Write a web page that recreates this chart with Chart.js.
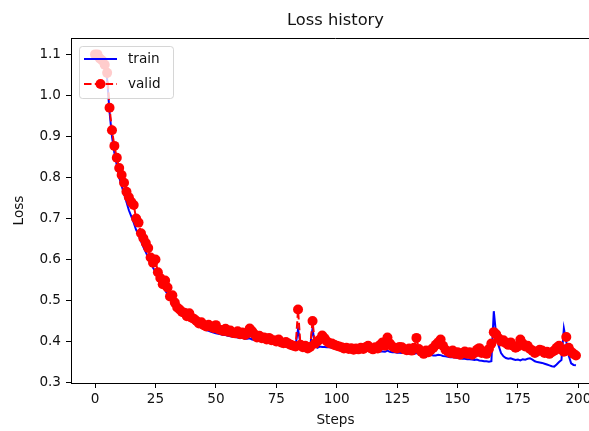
<!DOCTYPE html>
<html>
<head>
<meta charset="utf-8">
<script src="https://cdn.jsdelivr.net/npm/chart.js@4"></script>
<style>
  html, body { margin: 0; padding: 0; background: #fff; overflow: hidden; }
  #wrap { width: 605px; height: 431px; }
</style>
</head>
<body>
<div id="wrap"><canvas id="lossChart" width="605" height="431"></canvas></div>
<script>
'use strict';

// loss values per step
var trainLoss = [
  1.100, 1.100, 1.095, 1.090, 1.075, 1.040, 0.960, 0.900, 0.860, 0.830,
  0.800, 0.780, 0.760, 0.740, 0.720, 0.705, 0.690, 0.672, 0.660, 0.645,
  0.630, 0.618, 0.605, 0.593, 0.580, 0.570, 0.560, 0.550, 0.535, 0.525,
  0.515, 0.505, 0.497, 0.490, 0.483, 0.476, 0.470, 0.464, 0.458, 0.453,
  0.449, 0.445, 0.441, 0.437, 0.434, 0.431, 0.428, 0.426, 0.424, 0.422,
  0.420, 0.419, 0.418, 0.416, 0.416, 0.414, 0.413, 0.412, 0.411, 0.410,
  0.409, 0.409, 0.407, 0.407, 0.408, 0.405, 0.404, 0.403, 0.403, 0.401,
  0.401, 0.400, 0.399, 0.399, 0.398, 0.397, 0.397, 0.396, 0.395, 0.395,
  0.394, 0.393, 0.393, 0.392, 0.430, 0.395, 0.391, 0.390, 0.390, 0.389,
  0.432, 0.393, 0.385, 0.388, 0.387, 0.387, 0.386, 0.386, 0.385, 0.385,
  0.384, 0.384, 0.383, 0.383, 0.382, 0.382, 0.381, 0.381, 0.380, 0.380,
  0.380, 0.379, 0.379, 0.378, 0.378, 0.377, 0.377, 0.377, 0.376, 0.376,
  0.375, 0.378, 0.375, 0.374, 0.374, 0.373, 0.373, 0.372, 0.372, 0.371,
  0.371, 0.371, 0.370, 0.372, 0.370, 0.369, 0.368, 0.368, 0.367, 0.367,
  0.366, 0.366, 0.368, 0.367, 0.365, 0.364, 0.363, 0.362, 0.362, 0.361,
  0.360, 0.359, 0.358, 0.358, 0.357, 0.357, 0.356, 0.355, 0.356, 0.354,
  0.353, 0.352, 0.352, 0.351, 0.352, 0.474, 0.415, 0.390, 0.372, 0.364,
  0.360, 0.358, 0.359, 0.357, 0.355, 0.356, 0.354, 0.357, 0.356, 0.358,
  0.359, 0.356, 0.352, 0.350, 0.349, 0.348, 0.346, 0.344, 0.342, 0.340,
  0.339, 0.344, 0.350, 0.355, 0.432, 0.400, 0.366, 0.347, 0.343, 0.342
];

var validLoss = [
  1.100, 1.100, 1.090, 1.085, 1.075, 1.055, 0.970, 0.915, 0.877, 0.848,
  0.823, 0.806, 0.787, 0.765, 0.752, 0.740, 0.733, 0.700, 0.690, 0.664,
  0.652, 0.640, 0.628, 0.605, 0.592, 0.600, 0.569, 0.555, 0.540, 0.549,
  0.532, 0.510, 0.513, 0.495, 0.483, 0.478, 0.472, 0.470, 0.462, 0.469,
  0.458, 0.455, 0.450, 0.444, 0.447, 0.440, 0.437, 0.441, 0.436, 0.433,
  0.440, 0.430, 0.428, 0.426, 0.431, 0.424, 0.427, 0.421, 0.420, 0.425,
  0.418, 0.422, 0.416, 0.420, 0.432, 0.425, 0.418, 0.410, 0.414, 0.408,
  0.410, 0.405, 0.409, 0.403, 0.403, 0.400, 0.405, 0.398, 0.396, 0.399,
  0.395, 0.392, 0.390, 0.388, 0.478, 0.392, 0.386, 0.390, 0.383, 0.387,
  0.450, 0.395, 0.400, 0.405, 0.415, 0.408, 0.400, 0.396, 0.395, 0.392,
  0.390, 0.388, 0.386, 0.383, 0.385, 0.382, 0.384, 0.380, 0.383, 0.381,
  0.385, 0.382, 0.386, 0.390, 0.384, 0.381, 0.386, 0.383, 0.392, 0.398,
  0.390, 0.410, 0.395, 0.388, 0.385, 0.383, 0.387, 0.386, 0.381, 0.379,
  0.383, 0.378, 0.385, 0.409, 0.382, 0.375, 0.370, 0.378, 0.374, 0.380,
  0.385, 0.392, 0.398, 0.405, 0.390, 0.380, 0.376, 0.372, 0.378, 0.370,
  0.374, 0.368, 0.372, 0.376, 0.370, 0.374, 0.368, 0.372, 0.380, 0.384,
  0.372, 0.376, 0.370, 0.382, 0.395, 0.423, 0.418, 0.408, 0.400, 0.403,
  0.396, 0.392, 0.398, 0.390, 0.385, 0.388, 0.405, 0.395, 0.388, 0.390,
  0.382, 0.378, 0.372, 0.376, 0.380, 0.378, 0.372, 0.375, 0.370, 0.374,
  0.378, 0.385, 0.390, 0.380, 0.375, 0.411, 0.385, 0.375, 0.370, 0.366
];

var xTicks = [0, 25, 50, 75, 100, 125, 150, 175, 200];
var yTicks = [0.3, 0.4, 0.5, 0.6, 0.7, 0.8, 0.9, 1.0, 1.1];

var FONT = "'DejaVu Sans', sans-serif";
var TEXT = '#111';

function toPoints(arr) {
    var pts = [];
    arr.forEach(function(v, i) { pts.push({ x: i, y: v }); });
    return pts;
}

// title centred on the axes, top spine, legend box over the data
var framePlugin = {
    id: 'frame',
    afterDatasetsDraw: function(chart) {
        var ctx = chart.ctx;
        var a = chart.chartArea;
        ctx.save();
        ctx.strokeStyle = '#000';
        ctx.lineWidth = 1;
        ctx.beginPath();
        ctx.moveTo(a.left, a.top + 0.5);
        ctx.lineTo(a.right, a.top + 0.5);
        ctx.stroke();

        ctx.fillStyle = TEXT;
        ctx.font = '16.3px ' + FONT;
        ctx.textAlign = 'center';
        ctx.textBaseline = 'middle';
        ctx.fillText('Loss history', (a.left + a.right) / 2, 21);

        // legend
        var bx = 79.5, by = 46.5, bw = 94, bh = 52, r = 3;
        ctx.beginPath();
        ctx.moveTo(bx + r, by);
        ctx.lineTo(bx + bw - r, by);
        ctx.arcTo(bx + bw, by, bx + bw, by + r, r);
        ctx.lineTo(bx + bw, by + bh - r);
        ctx.arcTo(bx + bw, by + bh, bx + bw - r, by + bh, r);
        ctx.lineTo(bx + r, by + bh);
        ctx.arcTo(bx, by + bh, bx, by + bh - r, r);
        ctx.lineTo(bx, by + r);
        ctx.arcTo(bx, by, bx + r, by, r);
        ctx.closePath();
        ctx.fillStyle = 'rgba(255,255,255,0.8)';
        ctx.fill();
        ctx.strokeStyle = 'rgba(204,204,204,0.8)';
        ctx.stroke();

        ctx.lineWidth = 2;
        ctx.strokeStyle = '#0000ff';
        ctx.beginPath();
        ctx.moveTo(84, 59);
        ctx.lineTo(117, 59);
        ctx.stroke();

        ctx.strokeStyle = '#ff0000';
        ctx.setLineDash([7.5, 3.3]);
        ctx.beginPath();
        ctx.moveTo(84, 84);
        ctx.lineTo(117, 84);
        ctx.stroke();
        ctx.setLineDash([]);
        ctx.fillStyle = '#ff0000';
        ctx.beginPath();
        ctx.arc(100.5, 84, 5, 0, Math.PI * 2);
        ctx.fill();

        ctx.fillStyle = TEXT;
        ctx.font = '13.6px ' + FONT;
        ctx.textAlign = 'left';
        ctx.fillText('train', 128, 59);
        ctx.fillText('valid', 128, 84);
        ctx.restore();
    }
};

var ctx = document.getElementById('lossChart');
var lossChart = new Chart(ctx, {
    type: 'line',
    data: {
        datasets: [{
            label: 'train',
            data: toPoints(trainLoss),
            borderColor: '#0000ff',
            borderWidth: 2,
            pointRadius: 0,
            fill: false,
            tension: 0,
            order: 2
        }, {
            label: 'valid',
            data: toPoints(validLoss),
            borderColor: '#ff0000',
            borderWidth: 2,
            borderDash: [7.5, 3.3],
            pointRadius: 5,
            pointBackgroundColor: '#ff0000',
            pointBorderColor: '#ff0000',
            pointBorderWidth: 0,
            fill: false,
            tension: 0,
            order: 1
        }]
    },
    options: {
        responsive: false,
        animation: false,
        devicePixelRatio: 1,
        layout: { padding: { top: 38, left: 0, right: 0, bottom: 0 } },
        plugins: {
            legend: { display: false },
            tooltip: { enabled: false },
            title: { display: false }
        },
        scales: {
            x: {
                type: 'linear',
                min: -9.95,
                max: 208.95,
                afterFit: function(s) { s.height = 48; },
                afterBuildTicks: function(s) {
                    s.ticks = xTicks.map(function(v) { return { value: v }; });
                },
                ticks: {
                    color: TEXT,
                    font: { family: FONT, size: 13.6 },
                    padding: 3,
                    maxRotation: 0,
                    autoSkip: false,
                    callback: function(v) { return String(v); }
                },
                grid: {
                    drawOnChartArea: false,
                    drawTicks: true,
                    tickLength: 5,
                    tickColor: '#000'
                },
                border: { display: true, color: '#000', width: 1 },
                title: {
                    display: true,
                    text: 'Steps',
                    color: TEXT,
                    font: { family: FONT, size: 13.6, lineHeight: 1.2 },
                    padding: { top: 0, bottom: 2 }
                }
            },
            y: {
                type: 'linear',
                min: 0.299,
                max: 1.14,
                afterFit: function(s) { s.width = 71; },
                afterBuildTicks: function(s) {
                    s.ticks = yTicks.map(function(v) { return { value: v }; });
                },
                ticks: {
                    color: TEXT,
                    font: { family: FONT, size: 13.6 },
                    padding: 5,
                    autoSkip: false,
                    callback: function(v) { return v.toFixed(1); }
                },
                grid: {
                    drawOnChartArea: false,
                    drawTicks: true,
                    tickLength: 5,
                    tickColor: '#000'
                },
                border: { display: true, color: '#000', width: 1 },
                title: {
                    display: true,
                    text: 'Loss',
                    color: TEXT,
                    font: { family: FONT, size: 13.6, lineHeight: 1.2 },
                    padding: { top: 11, bottom: 0 }
                }
            }
        }
    },
    plugins: [framePlugin]
});
</script>
</body>
</html>
